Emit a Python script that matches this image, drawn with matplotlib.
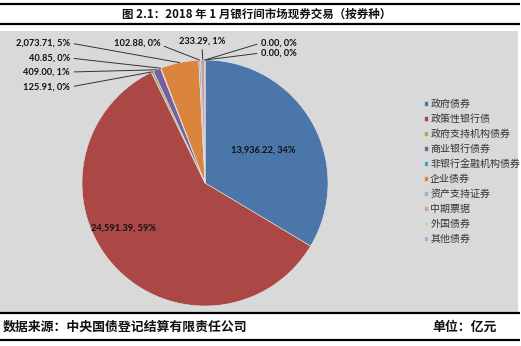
import numpy as np
import matplotlib
matplotlib.use("Agg")
import matplotlib.pyplot as plt
from matplotlib.patches import Rectangle

plt.rcParams['font.family'] = ['Noto Sans CJK SC', 'DejaVu Sans']

# Bond types and January 2018 interbank spot trading volume (亿元)
categories = ["政府债券", "政策性银行债", "政府支持机构债券", "商业银行债券",
              "非银行金融机构债券", "企业债券", "资产支持证券", "中期票据",
              "外国债券", "其他债券"]
values = [13936.22, 24591.39, 125.91, 409.00, 40.85, 2073.71, 102.88, 233.29,
          0.00, 0.00]
colors = ["#4a76aa", "#ab4744", "#98b35a", "#7a5fa0", "#4aa3bd", "#db843d",
          "#9db2d3", "#cc9ea2", "#c4d79e", "#b8a9cc"]

title = "图 2.1：2018 年 1 月银行间市场现券交易（按券种）"
source = "数据来源：中央国债登记结算有限责任公司"
unit = "单位：亿元"

W, H = 521, 346
fig = plt.figure(figsize=(W / 100, H / 100), dpi=100)

# Page-like frame in pixel coordinates
bg = fig.add_axes([0, 0, 1, 1])
bg.set_xlim(0, W)
bg.set_ylim(H, 0)
bg.axis("off")
bg.add_patch(Rectangle((0, 31), 518, 280.5, facecolor="#d9d9d9", edgecolor="none"))
for yy, lw in [(4, 1.6), (24, 1.6), (312.5, 1.6), (340, 1.6)]:
    bg.plot([0, 520], [yy, yy], color="black", lw=lw, solid_capstyle="butt")
bg.text(257, 14.5, title, ha="center", va="center", fontsize=8.3,
        fontweight="bold", color="#111111")
bg.text(3, 326.5, source, ha="left", va="center", fontsize=9.3,
        fontweight="bold", color="#111111")
bg.text(497, 326.5, unit, ha="right", va="center", fontsize=9.3,
        fontweight="bold", color="#111111")

# Pie
cx, cy, r = 205, 183, 123
ax = fig.add_axes([(cx - r) / W, (H - cy - r) / H, 2 * r / W, 2 * r / H])
wedges, _ = ax.pie(values, colors=colors, startangle=90, counterclock=False,
                   radius=1.0, wedgeprops=dict(edgecolor="#e6e6e6", linewidth=0.4))
ax.set_xlim(-1, 1)
ax.set_ylim(-1, 1)
ax.axis("off")

total = sum(values)


def label_text(v):
    return f"{v:,.2f}, {100 * v / total:.0f}%"


def mid_point(w, rad=1.0):
    ang = np.deg2rad((w.theta1 + w.theta2) / 2)
    return rad * np.cos(ang), rad * np.sin(ang)


lbl_font = dict(fontsize=6.7, fontweight="bold", color="#111111",
                family=["Lato", "DejaVu Sans"])

# Labels inside the two large slices
bx, by = mid_point(wedges[0], 0.54)
ax.text(bx, by, label_text(values[0]), ha="center", va="center", **lbl_font)
ax.text(-0.66, -0.37, label_text(values[1]), ha="center", va="center", **lbl_font)

# Outside labels with leader lines: (index, text x, text y, ha, relpos)
outside = [
    (5, 70, 43, "right", (1.0, 0.5)),
    (4, 70, 58, "right", (1.0, 0.5)),
    (3, 70, 72, "right", (1.0, 0.5)),
    (2, 70, 87, "right", (1.0, 0.5)),
    (6, 137, 43, "center", (1.0, 0.3)),
    (7, 202, 41, "center", (0.5, 0.0)),
    (8, 261, 43, "left", (0.0, 0.5)),
    (9, 261, 53, "left", (0.0, 0.5)),
]
for i, tx, ty, ha, rp in outside:
    px, py = mid_point(wedges[i], 1.0)
    ax.annotate(label_text(values[i]), xy=(px, py), xytext=(tx, ty),
                textcoords=bg.transData, ha=ha, va="center",
                arrowprops=dict(arrowstyle="-", color="#333333", lw=0.7,
                                relpos=rp, shrinkA=1, shrinkB=0),
                annotation_clip=False, **lbl_font)

# Legend
leg = fig.legend(wedges, categories, loc="upper left",
                 bbox_to_anchor=(420 / W, 1 - 95 / H), frameon=False,
                 fontsize=7.2, handlelength=0.42, handleheight=0.42,
                 handletextpad=0.2, labelspacing=0.5, borderaxespad=0)
for t in leg.get_texts():
    t.set_color("#333333")

fig.savefig("out.png", dpi=100)
